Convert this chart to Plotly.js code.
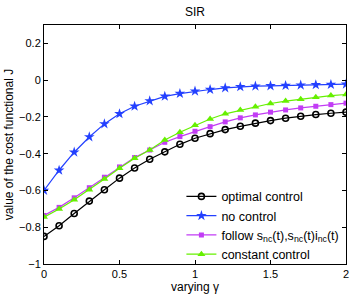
<!DOCTYPE html>
<html>
<head>
<meta charset="utf-8">
<script src="https://cdn.plot.ly/plotly-3.0.1.min.js"></script>
<style>html,body{margin:0;padding:0;background:#fff;}#chart{width:354px;height:294px;}</style>
</head>
<body>
<div id="chart"></div>
<script>
var gammaValues = [0,0.1,0.2,0.3,0.4,0.5,0.6,0.7,0.8,0.9,1.0,1.1,1.2,1.3,1.4,1.5,1.6,1.7,1.8,1.9,2.0];
var optimalControl = [-0.85,-0.792,-0.725,-0.658,-0.596,-0.533,-0.478,-0.43,-0.39,-0.349,-0.316,-0.291,-0.269,-0.251,-0.234,-0.220,-0.207,-0.196,-0.187,-0.180,-0.174];
var noControl = [-0.60,-0.49,-0.392,-0.309,-0.238,-0.183,-0.142,-0.113,-0.088,-0.073,-0.060,-0.051,-0.042,-0.036,-0.033,-0.031,-0.029,-0.027,-0.025,-0.024,-0.022];
var followControl = [-0.736,-0.692,-0.640,-0.585,-0.528,-0.472,-0.421,-0.38,-0.338,-0.307,-0.278,-0.253,-0.227,-0.205,-0.189,-0.174,-0.162,-0.151,-0.142,-0.133,-0.125];
var constantControl = [-0.745,-0.701,-0.650,-0.596,-0.538,-0.479,-0.425,-0.38,-0.325,-0.283,-0.245,-0.211,-0.183,-0.163,-0.144,-0.127,-0.114,-0.104,-0.093,-0.084,-0.078];
var seriesNames = ['optimal control','no control','follow s<sub>nc</sub>(t),s<sub>nc</sub>(t)i<sub>nc</sub>(t)','constant control'];
var yTicks = [-1,-0.8,-0.6,-0.4,-0.2,0,0.2];
var xTicks = [0,0.5,1,1.5,2];

var fam = 'Liberation Sans, Arial, sans-serif';
var tickFont = {family:fam, size:11, color:'#000'};
var labelFont = {family:fam, size:12, color:'#000'};
var legendFont = {family:fam, size:12.5, color:'#000'};
var traces = [
  {x:gammaValues, y:optimalControl, name:seriesNames[0], mode:'lines+markers', line:{color:'#000000', width:1.2}, marker:{symbol:'circle-open', size:6, color:'#000000', line:{width:1.6, color:'#000'}}},
  {x:gammaValues, y:noControl, name:seriesNames[1], mode:'lines+markers', line:{color:'#2340ff', width:1.2}, marker:{symbol:'star', size:8, color:'#2340ff', line:{width:0}}},
  {x:gammaValues, y:followControl, name:seriesNames[2], mode:'lines+markers', line:{color:'#c23cf5', width:1.2}, marker:{symbol:'square', size:5, color:'#c23cf5', line:{width:0}}},
  {x:gammaValues, y:constantControl, name:seriesNames[3], mode:'lines+markers', line:{color:'#66f000', width:1.2}, marker:{symbol:'triangle-up', size:7, color:'#66f000', line:{width:0}}}
];
var axisCommon = {showline:true, mirror:'ticks', linecolor:'#000', linewidth:1, ticks:'inside', ticklen:4, tickcolor:'#000', showgrid:false, zeroline:false, tickfont:tickFont};
var layout = {
  width:354, height:294,
  margin:{l:44, r:8, t:25, b:30, autoexpand:false},
  paper_bgcolor:'#fff', plot_bgcolor:'#fff',
  font:tickFont,
  title:{text:'SIR', font:labelFont, x:0.551, xanchor:'center', y:0.96, yanchor:'middle'},
  xaxis:Object.assign({}, axisCommon, {range:[0,2], tickvals:xTicks, ticktext:xTicks.map(String), title:{text:'varying γ', font:labelFont, standoff:1}}),
  yaxis:Object.assign({}, axisCommon, {range:[-1,0.3], tickvals:yTicks, ticktext:yTicks.map(function(v){return v<0?'\u2212'+Math.abs(v):String(v);}), title:{text:'value of the cost functional J', font:labelFont, standoff:2}}),
  legend:{x:0.455, xanchor:'left', y:-0.02, yanchor:'bottom', bgcolor:'rgba(255,255,255,0)', borderwidth:0, font:legendFont, tracegroupgap:0, itemwidth:30},
  showlegend:true
};
Plotly.newPlot('chart', traces, layout, {displayModeBar:false, staticPlot:true});
</script>
</body>
</html>
